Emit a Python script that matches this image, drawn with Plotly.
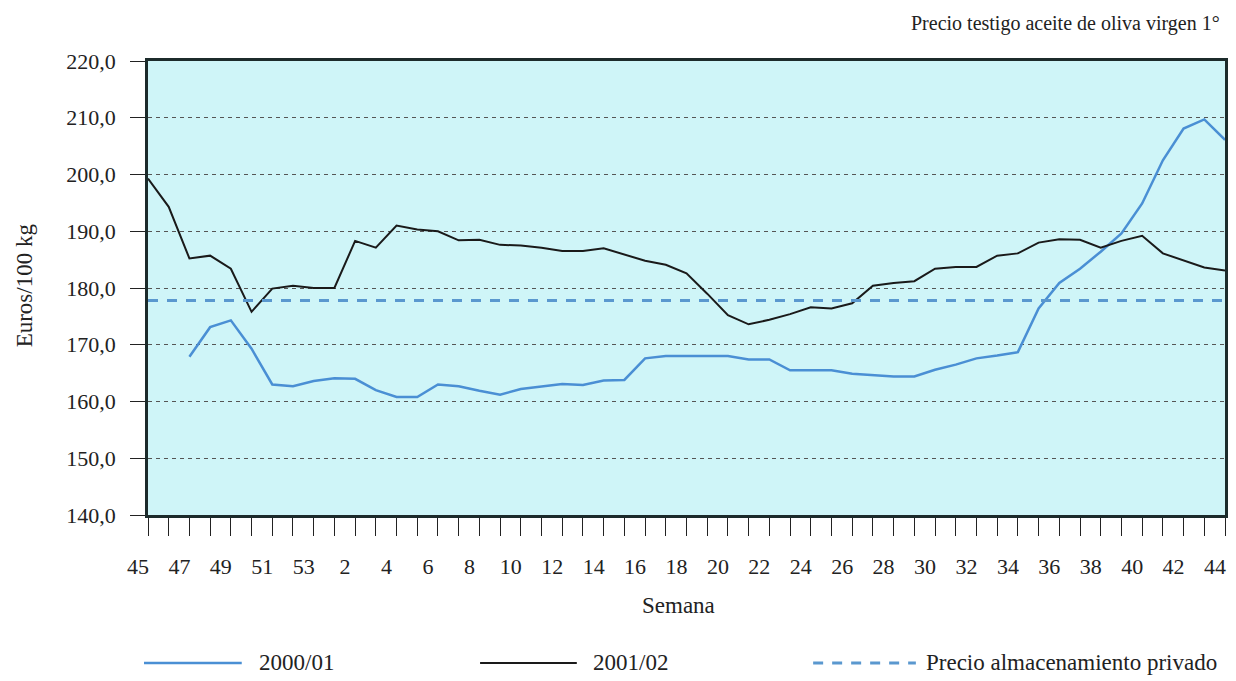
import plotly.graph_objects as go

# ---- data ----
weeks = ["45", "46", "47", "48", "49", "50", "51", "52", "53"] + [str(w) for w in range(1, 45)]

price_2000_01 = [169.0, None, 167.9, 173.1, 174.3, 169.3, 163.0, 162.7, 163.6,
                 164.1, 164.0, 162.0, 160.8, 160.8, 163.0, 162.7, 161.9, 161.2, 162.2,
                 162.7, 163.1, 162.9, 163.7, 163.8, 167.6, 168.0, 168.0, 168.0, 168.0,
                 167.4, 167.4, 165.5, 165.5, 165.5, 164.9, 164.6, 164.4, 164.4, 165.6,
                 166.5, 167.6, 168.1, 168.7, 176.4, 180.9, 183.4, 186.4, 189.6, 194.9,
                 202.5, 208.1, 209.7, 206.1]

price_2001_02 = [199.3, 194.3, 185.2, 185.7, 183.4, 175.8, 179.9, 180.4, 180.0,
                 180.0, 188.3, 187.1, 191.0, 190.3, 190.0, 188.4, 188.5, 187.6, 187.5,
                 187.1, 186.5, 186.5, 187.0, 185.9, 184.8, 184.1, 182.6, 179.0, 175.2,
                 173.6, 174.4, 175.4, 176.6, 176.4, 177.3, 180.4, 180.9, 181.2, 183.4,
                 183.7, 183.7, 185.7, 186.1, 188.0, 188.6, 188.5, 187.1, 188.3, 189.2,
                 186.1, 184.9, 183.6, 183.1]

storage_price = 177.8

series_names = ["2000/01", "2001/02", "Precio almacenamiento privado"]
y_ticks = [140, 150, 160, 170, 180, 190, 200, 210, 220]
x_tick_labels = [w if i % 2 == 0 else "" for i, w in enumerate(weeks)]

# ---- style ----
FONT = "Liberation Serif"
TXT = "#222"
BLUE = "#4a8fd4"
BLACK = "#1a1a1a"
DASHBLUE = "#5a98cf"
L, R, T, B = 148, 8, 61, 166
W, H = 1236, 681
PW, PH = W - L - R, H - T - B


def px2paper_x(px):
    return (px - L) / PW


def px2paper_y(py):
    return (H - B - py) / PH


fig = go.Figure()
fig.add_trace(go.Scatter(x=weeks, y=price_2000_01, mode="lines", name=series_names[0],
                         line=dict(color=BLUE, width=2.5), connectgaps=False, showlegend=False))
fig.add_trace(go.Scatter(x=weeks, y=price_2001_02, mode="lines", name=series_names[1],
                         line=dict(color=BLACK, width=2), showlegend=False))
fig.add_trace(go.Scatter(x=weeks, y=[storage_price] * len(weeks), mode="lines", name=series_names[2],
                         line=dict(color=DASHBLUE, width=3, dash="10px,9px"), showlegend=False))

fig.update_layout(
    width=W, height=H,
    margin=dict(l=L, r=R, t=T, b=B),
    paper_bgcolor="white",
    plot_bgcolor="rgb(207,245,248)",
    separators=",.",
    font=dict(family=FONT, color=TXT, size=21),
)

fig.update_xaxes(
    type="category", categoryorder="array", categoryarray=weeks,
    range=[0, len(weeks) - 1],
    tickmode="array", tickvals=weeks, ticktext=x_tick_labels,
    ticks="outside", ticklen=18, tickwidth=1.2, tickcolor=TXT,
    ticklabelstandoff=12, ticklabelshift=-10,
    tickfont=dict(family=FONT, size=22, color=TXT),
    showgrid=False, zeroline=False,
    showline=True, linecolor="#1c2b2b", linewidth=2.5, mirror=True,
)
fig.update_yaxes(
    range=[140, 220], tickmode="array", tickvals=y_ticks, tickformat=".1f",
    ticks="outside", ticklen=15, tickwidth=1.2, tickcolor=TXT,
    ticklabelstandoff=10,
    tickfont=dict(family=FONT, size=22, color=TXT),
    showgrid=True, gridcolor="#555", gridwidth=1, griddash="4px,4px",
    zeroline=False,
    showline=True, linecolor="#1c2b2b", linewidth=2.5, mirror=True,
)

# texts
fig.add_annotation(text="Precio testigo aceite de oliva virgen 1°", xref="paper", yref="paper",
                   x=px2paper_x(1225), y=px2paper_y(23), xanchor="right", yanchor="middle",
                   showarrow=False, font=dict(family=FONT, size=20, color=TXT))
fig.add_annotation(text="Euros/100 kg", xref="paper", yref="paper",
                   x=px2paper_x(24), y=px2paper_y(285), textangle=-90, xanchor="center", yanchor="middle",
                   showarrow=False, font=dict(family=FONT, size=23, color=TXT))
fig.add_annotation(text="Semana", xref="paper", yref="paper",
                   x=px2paper_x(680), y=px2paper_y(605), xanchor="center", yanchor="middle",
                   showarrow=False, font=dict(family=FONT, size=23, color=TXT))

# custom legend (long sample lines like the reference)
legend_y = px2paper_y(663)
legend_items = [
    (series_names[0], 144, 242, 257, dict(color=BLUE, width=2.5)),
    (series_names[1], 481, 578, 592, dict(color=BLACK, width=2)),
    (series_names[2], 815, 918, 926, dict(color=DASHBLUE, width=3, dash="10px,9px")),
]
for name, x0, x1, xt, ln in legend_items:
    fig.add_shape(type="line", xref="paper", yref="paper", x0=px2paper_x(x0), x1=px2paper_x(x1),
                  y0=legend_y, y1=legend_y, line=ln)
    fig.add_annotation(text=name, xref="paper", yref="paper", x=px2paper_x(xt), y=legend_y,
                       xanchor="left", yanchor="middle", showarrow=False,
                       font=dict(family=FONT, size=23, color=TXT))

fig.write_html("out.html", config={"displayModeBar": False})

# remove default page margin so the figure sits at the window origin
with open("out.html", "r", encoding="utf-8") as f:
    html = f.read()
html = html.replace("<head>", "<head><style>html,body{margin:0;padding:0;overflow:hidden;}</style>", 1)
with open("out.html", "w", encoding="utf-8") as f:
    f.write(html)
